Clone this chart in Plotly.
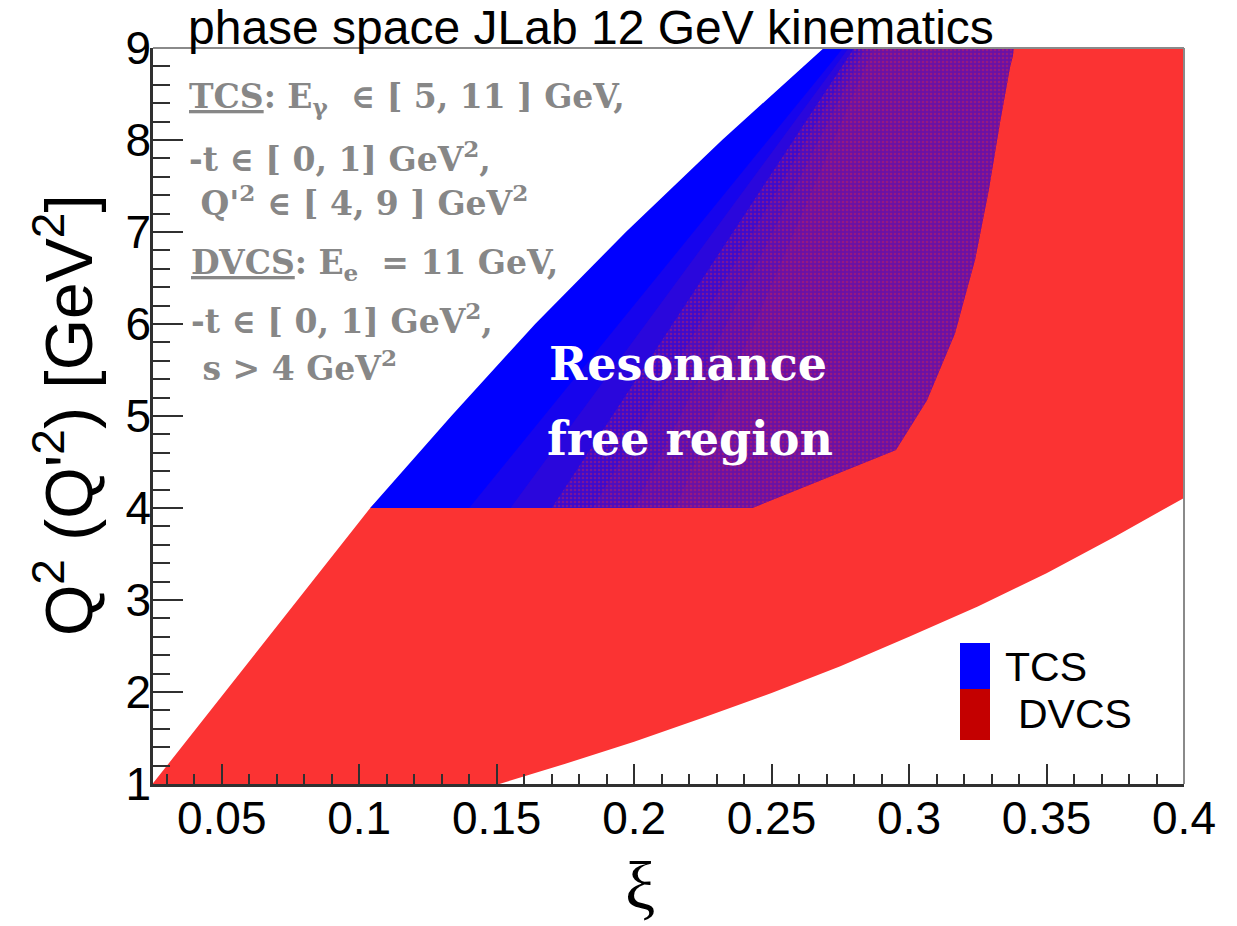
import plotly.graph_objects as go

# DVCS phase space (E_e = 11 GeV, -t in [0,1] GeV^2, s > 4 GeV^2), boundary in (xi, Q^2)
dvcs_upper_xi = [0.0248, 0.104, 0.138, 0.170, 0.204, 0.240, 0.277]
dvcs_upper_q2 = [1.0, 4.0, 5.0, 6.0, 7.0, 8.0, 9.0]
dvcs_right_xi = [0.4015, 0.4015]
dvcs_right_q2 = [9.0, 4.11]
dvcs_lower_xi = [0.400, 0.375, 0.350, 0.325, 0.300, 0.275, 0.250, 0.225, 0.200, 0.175, 0.151]
dvcs_lower_q2 = [4.11, 3.69, 3.29, 2.93, 2.60, 2.28, 1.99, 1.72, 1.46, 1.22, 1.00]

# TCS phase space (E_gamma in [5,11] GeV, -t in [0,1] GeV^2, Q'^2 in [4,9] GeV^2)
tcs_left_xi = [0.104, 0.1335, 0.164, 0.197, 0.232, 0.269]
tcs_left_q2 = [4.0, 5.0, 6.0, 7.0, 8.0, 9.0]
tcs_right_xi = [0.338, 0.3378, 0.3367, 0.333, 0.329, 0.324, 0.3167, 0.3065, 0.2952, 0.243]
tcs_right_q2 = [9.0, 8.92, 8.79, 8.18, 7.46, 6.70, 5.90, 5.17, 4.63, 4.0]

# DVCS event density showing through the TCS band, sparse -> dense
overlap_lo_xi = [0.140, 0.155, 0.170, 0.185, 0.200, 0.215]   # edge at Q^2 = 4
overlap_hi_xi = [0.276, 0.278, 0.280, 0.282, 0.284, 0.287]   # edge at Q^2 = 9

RED = "#fb3333"
BLUE = "#0000ff"

dvcs_xi = dvcs_upper_xi + dvcs_right_xi + dvcs_lower_xi + [dvcs_upper_xi[0]]
dvcs_q2 = dvcs_upper_q2 + dvcs_right_q2 + dvcs_lower_q2 + [dvcs_upper_q2[0]]
tcs_xi = tcs_left_xi + tcs_right_xi + [tcs_left_xi[0]]
tcs_q2 = tcs_left_q2 + tcs_right_q2 + [tcs_left_q2[0]]


def overlap_band(lo, hi):
    # from the density edge to the right-hand TCS boundary
    xs = [lo, hi] + tcs_right_xi + [lo]
    ys = [4.0, 9.0] + tcs_right_q2 + [4.0]
    return xs, ys


fig = go.Figure()
fig.add_trace(go.Scatter(x=dvcs_xi, y=dvcs_q2, mode="lines", fill="toself",
                         fillcolor=RED, line=dict(width=0), name="DVCS",
                         showlegend=False, hoverinfo="skip"))
fig.add_trace(go.Scatter(x=tcs_xi, y=tcs_q2, mode="lines", fill="toself",
                         fillcolor=BLUE, line=dict(width=0), name="TCS",
                         showlegend=False, hoverinfo="skip"))
for lo, hi in zip(overlap_lo_xi, overlap_hi_xi):
    oxi, oq2 = overlap_band(lo, hi)
    fig.add_trace(go.Scatter(x=oxi, y=oq2, mode="lines", fill="toself",
                             fillcolor="rgba(251,51,51,0.085)",
                             line=dict(width=0), showlegend=False, hoverinfo="skip"))
# fine grain of the dense part
oxi, oq2 = overlap_band(overlap_lo_xi[2], overlap_hi_xi[2])
fig.add_trace(go.Scatter(x=oxi, y=oq2, mode="lines", fill="toself",
                         fillcolor="rgba(0,0,0,0)",
                         fillpattern=dict(shape=".", size=4, solidity=0.35,
                                          fgcolor="rgb(235,40,60)", fgopacity=0.35),
                         line=dict(width=0), showlegend=False, hoverinfo="skip"))

# plot area in pixels: x 153..1184, y 48..784
L, R, T, B = 153, 1184, 48, 784


def px(x, y):
    return (x - L) / (R - L), (B - y) / (B - T)


annotations = []


def text(x, y, s, size, color="black", family="Liberation Sans", xanchor="center",
         angle=0):
    ax, ay = px(x, y)
    annotations.append(dict(x=ax, y=ay, xref="paper", yref="paper", text=s,
                            showarrow=False, xanchor=xanchor, yanchor="middle",
                            textangle=angle,
                            font=dict(size=size, color=color, family=family)))


# title and axis titles
text(591, 28, "phase space JLab 12 GeV kinematics", 48)
text(64, 415, "Q<sup>2</sup> (Q'<sup>2</sup>) [GeV<sup>2</sup>]", 66, angle=-90)
text(640, 886, "ξ", 68, family="Liberation Serif")

# kinematic cuts
GRAY = "#878787"
SERIF = "DejaVu Serif"
FS = 33
text(187, 99, "<b><u>TCS</u>: E<sub>γ</sub>  ∈ [ 5, 11 ] GeV,</b>", FS, GRAY, SERIF, "left")
text(187, 157, "<b>-t ∈ [ 0, 1] GeV<sup>2</sup>,</b>", FS, GRAY, SERIF, "left")
text(187, 201, "<b> Q'<sup>2</sup> ∈ [ 4, 9 ] GeV<sup>2</sup></b>", FS, GRAY, SERIF, "left")
text(189, 264, "<b><u>DVCS</u>: E<sub>e</sub>  = 11 GeV,</b>", FS, GRAY, SERIF, "left")
text(189, 319, "<b>-t ∈ [ 0, 1] GeV<sup>2</sup>,</b>", FS, GRAY, SERIF, "left")
text(189, 366, "<b> s > 4 GeV<sup>2</sup></b>", FS, GRAY, SERIF, "left")

# region label
text(688, 364, "<b>Resonance</b>", 46, "white", SERIF)
text(690, 439, "<b>free region</b>", 46, "white", SERIF)

# legend
text(1003, 667, "TCS", 41, xanchor="left")
text(1016, 714, "DVCS", 41, xanchor="left")

shapes = []
bx0, by0 = px(960, 643)
bx1, by1 = px(990, 689)
shapes.append(dict(type="rect", xref="paper", yref="paper", x0=bx0, x1=bx1,
                   y0=by1, y1=by0, fillcolor=BLUE, line=dict(width=0)))
rx0, ry0 = px(960, 689)
rx1, ry1 = px(990, 740)
shapes.append(dict(type="rect", xref="paper", yref="paper", x0=rx0, x1=rx1,
                   y0=ry1, y1=ry0, fillcolor="#c40000", line=dict(width=0)))
# top and right frame
shapes.append(dict(type="line", xref="paper", yref="paper", x0=0, x1=1, y0=1, y1=1,
                   line=dict(color="#8a8a8a", width=2)))
shapes.append(dict(type="line", xref="paper", yref="paper", x0=1, x1=1, y0=0, y1=1,
                   line=dict(color="#8a8a8a", width=2)))

AX = "#303030"
fig.update_layout(
    width=1237, height=926,
    margin=dict(l=L, r=1237 - R, t=T, b=926 - B),
    paper_bgcolor="white", plot_bgcolor="white",
    showlegend=False,
    annotations=annotations,
    shapes=shapes,
    xaxis=dict(range=[0.025, 0.4], showgrid=False, zeroline=False,
               showline=True, linecolor=AX, linewidth=2.5,
               ticks="inside", ticklen=20, tickwidth=2, tickcolor=AX,
               tick0=0.05, dtick=0.05, ticklabelstandoff=-8,
               tickfont=dict(size=46, family="Liberation Sans", color="black"),
               minor=dict(ticks="inside", ticklen=10, tickwidth=2, tickcolor=AX,
                          tick0=0, dtick=0.01)),
    yaxis=dict(range=[1, 9], showgrid=False, zeroline=False,
               showline=True, linecolor=AX, linewidth=2.5,
               ticks="inside", ticklen=30, tickwidth=2, tickcolor=AX,
               tick0=1, dtick=1, ticklabelstandoff=-10,
               tickfont=dict(size=46, family="Liberation Sans", color="black"),
               minor=dict(ticks="inside", ticklen=17, tickwidth=2, tickcolor=AX,
                          tick0=1, dtick=0.2)),
)

fig.write_html("out.html")
